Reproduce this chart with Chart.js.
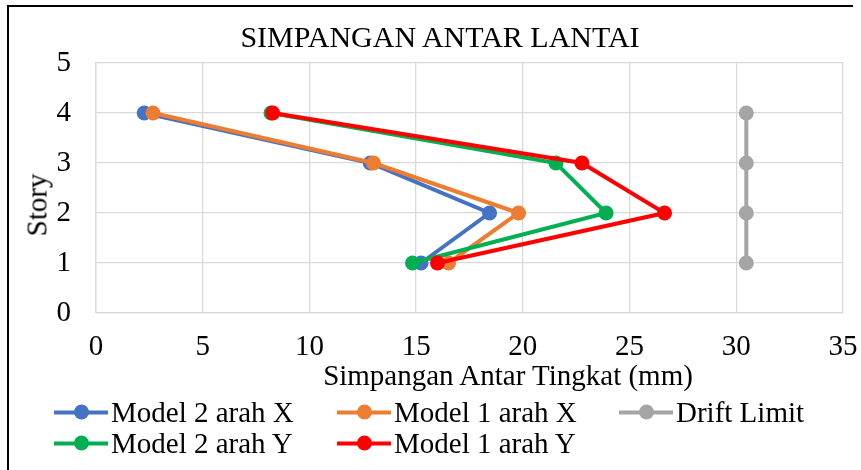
<!DOCTYPE html>
<html>
<head>
<meta charset="utf-8">
<script src="https://cdn.jsdelivr.net/npm/chart.js@4/dist/chart.umd.min.js"></script>
<style>
html,body{margin:0;padding:0;background:#fff;}
#wrap{position:relative;width:861px;height:470px;overflow:hidden;font-family:"Liberation Serif","Times New Roman",serif;color:#000;background:#fff;}
#c{position:absolute;left:0;top:0;}
.frame{position:absolute;left:7px;top:5px;width:844px;height:480px;border-left:2px solid #000;border-top:2px solid #000;pointer-events:none;}
.t{position:absolute;white-space:nowrap;line-height:1;font-size:29px;transform:translate(-50%,-50%);}
.rot{transform:translate(-50%,-50%) rotate(-90deg);}
.lg{position:absolute;height:29px;display:flex;align-items:center;white-space:nowrap;font-size:29px;line-height:1;transform:translateY(-50%);}
.sym{position:relative;width:54px;height:15px;margin-right:3px;flex:none;}
.sym .ln{position:absolute;left:0;right:0;top:5.5px;height:4px;}
.sym .dt{position:absolute;left:19.5px;top:0;width:15px;height:15px;border-radius:50%;}
</style>
</head>
<body>
<div id="wrap">
  <canvas id="c" width="861" height="470"></canvas>
  <div class="t" id="title" style="left:440px;top:37px;font-size:30px;"></div>
  <div class="t" id="xtitle" style="left:508px;top:375px;"></div>
  <div class="t rot" id="ytitle" style="left:37px;top:205px;"></div>
  <div id="legend"></div>
  <div class="frame"></div>
</div>
<script>
// ---- data ----
const chartTitle = "SIMPANGAN ANTAR LANTAI";
const xAxisTitle = "Simpangan Antar Tingkat (mm)";
const yAxisTitle = "Story";
const stories = [1, 2, 3, 4];
const model2X = [15.23, 18.44, 12.85, 2.26];
const model1X = [16.52, 19.80, 13.00, 2.67];
const driftLimit = [30.47, 30.47, 30.47, 30.47];
const model2Y = [14.83, 23.90, 21.55, 8.20];
const model1Y = [16.00, 26.64, 22.77, 8.28];
const seriesNames = ["Model 2 arah X", "Model 1 arah X", "Drift Limit", "Model 2 arah Y", "Model 1 arah Y"];
const xTicks = [0, 5, 10, 15, 20, 25, 30, 35];
const yTicks = [0, 1, 2, 3, 4, 5];

// ---- styles ----
const seriesValues = [model2X, model1X, driftLimit, model2Y, model1Y];
const seriesColors = ["#4472C4", "#ED7D31", "#A5A5A5", "#00B050", "#FF0000"];
const drawOrder = [5, 4, 3, 2, 1];
const FONT = "'Liberation Serif', 'Times New Roman', serif";

document.getElementById('title').textContent = chartTitle;
document.getElementById('xtitle').textContent = xAxisTitle;
document.getElementById('ytitle').textContent = yAxisTitle;

const datasets = seriesNames.map((name, i) => ({
  label: name,
  data: stories.map((s, k) => ({x: seriesValues[i][k], y: s})),
  showLine: true,
  borderColor: seriesColors[i],
  backgroundColor: seriesColors[i],
  borderWidth: 4,
  pointRadius: 7.5,
  pointHoverRadius: 7.5,
  pointBorderWidth: 0,
  pointBackgroundColor: seriesColors[i],
  order: drawOrder[i],
  tension: 0
}));

new Chart(document.getElementById('c'), {
  type: 'scatter',
  data: {datasets},
  options: {
    responsive: false,
    animation: false,
    devicePixelRatio: 1,
    events: [],
    layout: {padding: {left: 20, right: 18, top: 63, bottom: 97}},
    plugins: {legend: {display: false}, title: {display: false}, tooltip: {enabled: false}},
    scales: {
      x: {
        type: 'linear', min: xTicks[0], max: xTicks[xTicks.length - 1],
        afterBuildTicks: s => { s.ticks = xTicks.map(v => ({value: v})); },
        afterFit: s => { s.height = 60; s.paddingLeft = 0; s.paddingRight = 0; },
        ticks: {color: '#000', font: {family: FONT, size: 29, lineHeight: 1}, padding: 20, maxRotation: 0},
        grid: {color: '#d9d9d9', lineWidth: 1.3, drawTicks: false},
        border: {color: '#d9d9d9', width: 1.3}
      },
      y: {
        type: 'linear', min: yTicks[0], max: yTicks[yTicks.length - 1],
        afterBuildTicks: s => { s.ticks = yTicks.map(v => ({value: v})); },
        afterFit: s => { s.width = 76; s.paddingTop = 0; s.paddingBottom = 0; },
        ticks: {color: '#000', font: {family: FONT, size: 29, lineHeight: 1}, padding: 25},
        grid: {color: '#d9d9d9', lineWidth: 1.3, drawTicks: false},
        border: {color: '#d9d9d9', width: 1.3}
      }
    }
  }
});

// legend laid out in Excel-like columns
const lgX = [54, 337, 619];
const lgY = [412, 443];
const legend = document.getElementById('legend');
seriesNames.forEach((name, i) => {
  const row = Math.floor(i / 3), col = i % 3;
  const item = document.createElement('div');
  item.className = 'lg';
  item.style.left = lgX[col] + 'px';
  item.style.top = lgY[row] + 'px';
  item.innerHTML = '<span class="sym"><span class="ln" style="background:' + seriesColors[i] + '"></span><span class="dt" style="background:' + seriesColors[i] + '"></span></span>';
  const txt = document.createElement('span');
  txt.textContent = name;
  item.appendChild(txt);
  legend.appendChild(item);
});
</script>
</body>
</html>
